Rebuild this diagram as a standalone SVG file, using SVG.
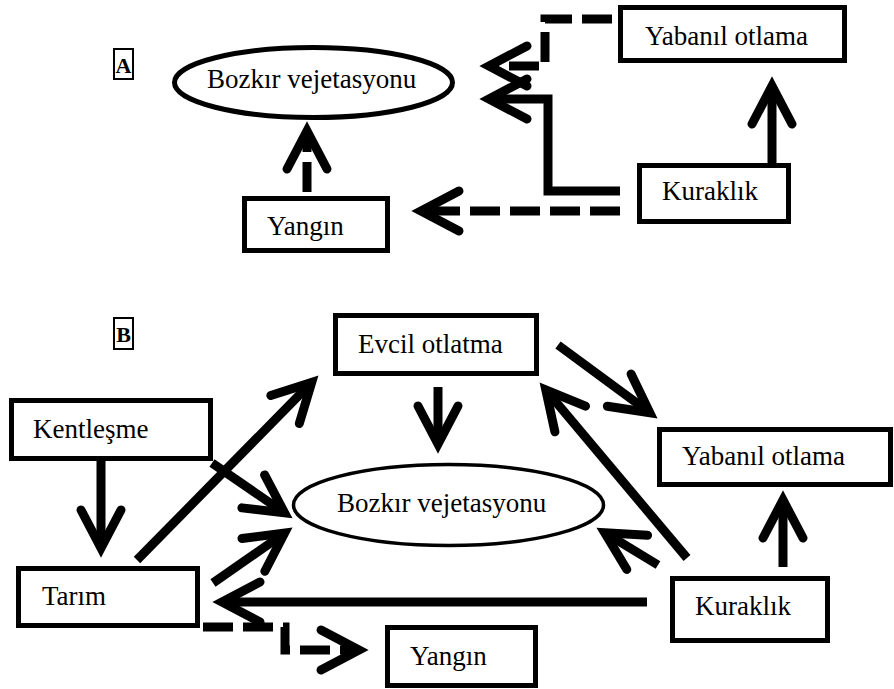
<svg xmlns="http://www.w3.org/2000/svg" width="894" height="689" viewBox="0 0 894 689">
<style>
  .box { fill: #fff; stroke: #000; stroke-width: 5; }
  .ell { fill: #fff; stroke: #000; }
  .lbl { font-family: "Liberation Serif", "Times New Roman", serif; font-size: 27px; fill: #000; }
  .tag { font-family: "Liberation Serif", "Times New Roman", serif; font-size: 22px; font-weight: bold; fill: #000; text-anchor: middle; }
  .tagbox { fill: none; stroke: #000; stroke-width: 2; }
  .arr { fill: none; stroke: #000; stroke-width: 9; marker-end: url(#head); }
  .dash { stroke-dasharray: 30 10; }
</style>
<defs>
  <marker id="head" markerUnits="userSpaceOnUse" viewBox="-60 -30 70 60" refX="0" refY="0" markerWidth="70" markerHeight="60" orient="auto" overflow="visible">
    <path d="M -38,-20 L 0,0 L -38,20" fill="none" stroke="#000" stroke-width="9" stroke-linecap="round" stroke-linejoin="miter" stroke-miterlimit="10"/>
  </marker>
</defs>
<rect width="894" height="689" fill="#fff"/>

<g id="connectors">
  <!-- Panel A -->
  <path class="arr dash" d="M 307,192 V 131"/>
  <path class="arr" d="M 772,163 V 86"/>
  <path class="arr" d="M 620,191 H 548 V 99 H 489"/>
  <path class="arr dash" d="M 612,19 H 545 V 66 H 489"/>
  <path class="arr dash" d="M 620,211 H 421"/>
  <!-- Panel B -->
  <path class="arr" d="M 101,461 V 548"/>
  <path class="arr" d="M 137,560 L 311.7,382.4"/>
  <path class="arr" d="M 212,463 L 284.6,512.9"/>
  <path class="arr" d="M 213,583 L 284.6,533.1"/>
  <path class="arr" d="M 438,387 V 444"/>
  <path class="arr" d="M 558,345 L 649.8,412.7"/>
  <path class="arr" d="M 687,558 L 545.8,389.9"/>
  <path class="arr" d="M 658,565 L 604.7,532.7"/>
  <path class="arr" d="M 783,567 V 500"/>
  <path class="arr" d="M 647,602 H 222"/>
  <path class="arr dash" d="M 203,627 H 285 V 650 H 359"/>
</g>

<g id="labelA">
  <rect class="tagbox" x="114" y="49" width="19" height="30"/>
  <text class="tag" x="123.5" y="73">A</text>
</g>
<g id="labelB">
  <rect class="tagbox" x="114" y="318" width="19" height="31"/>
  <text class="tag" x="123.5" y="342">B</text>
</g>

<g id="A-bozkir">
  <ellipse class="ell" style="stroke-width:5" cx="313.5" cy="82.5" rx="139" ry="35"/>
  <text class="lbl" x="207" y="88">Bozkır vejetasyonu</text>
</g>
<g id="A-yangin">
  <rect class="box" x="244.5" y="198.5" width="143" height="52"/>
  <text class="lbl" x="267" y="235">Yangın</text>
</g>
<g id="A-yabanil">
  <rect class="box" x="620.5" y="7.5" width="224" height="53"/>
  <text class="lbl" x="645" y="45">Yabanıl otlama</text>
</g>
<g id="A-kuraklik">
  <rect class="box" x="639.5" y="165.5" width="149" height="56"/>
  <text class="lbl" x="662" y="200">Kuraklık</text>
</g>

<g id="B-evcil">
  <rect class="box" x="335.5" y="315.5" width="201" height="58"/>
  <text class="lbl" x="358" y="353">Evcil otlatma</text>
</g>
<g id="B-kentlesme">
  <rect class="box" x="11.5" y="400.5" width="199" height="58"/>
  <text class="lbl" x="33" y="438">Kentleşme</text>
</g>
<g id="B-tarim">
  <rect class="box" x="18.5" y="568.5" width="179" height="57"/>
  <text class="lbl" x="42" y="605">Tarım</text>
</g>
<g id="B-bozkir">
  <ellipse class="ell" style="stroke-width:3.5" cx="448.5" cy="505" rx="155" ry="40.5"/>
  <text class="lbl" x="337" y="512">Bozkır vejetasyonu</text>
</g>
<g id="B-yabanil">
  <rect class="box" x="659.5" y="429.5" width="231" height="55"/>
  <text class="lbl" x="682" y="465">Yabanıl otlama</text>
</g>
<g id="B-kuraklik">
  <rect class="box" x="672.5" y="578.5" width="155" height="62"/>
  <text class="lbl" x="695" y="615">Kuraklık</text>
</g>
<g id="B-yangin">
  <rect class="box" x="387.5" y="627.5" width="148" height="58"/>
  <text class="lbl" x="410" y="665">Yangın</text>
</g>
</svg>
